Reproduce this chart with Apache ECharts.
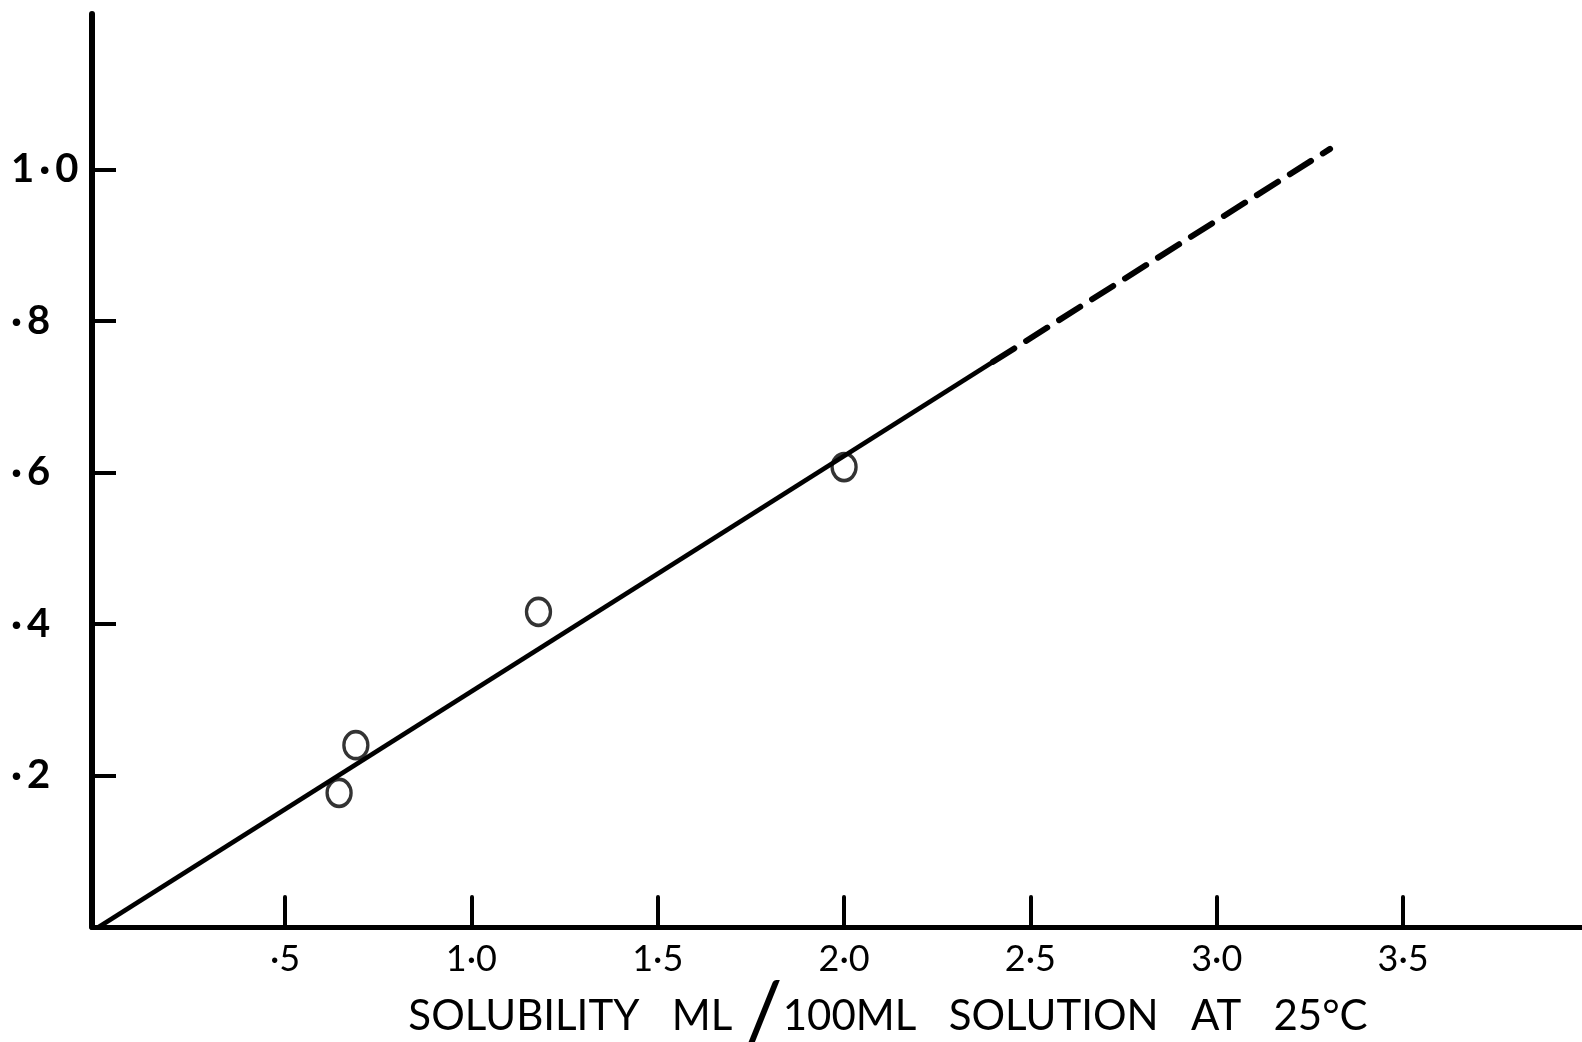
<!DOCTYPE html>
<html>
<head>
<meta charset="utf-8">
<script src="https://cdn.jsdelivr.net/npm/echarts@6/dist/echarts.min.js"></script>
<style>
  html, body { margin: 0; padding: 0; background: #fff; }
  #chart { width: 1582px; height: 1042px; }
</style>
</head>
<body>
<div id="chart"></div>
<script>
// Measured solubility points (ml / 100 ml solution at 25 °C)
const pointX = [0.645, 0.69, 1.18, 2.0];
const pointY = [0.177, 0.240, 0.416, 0.607];

// Fitted straight line: solid over the measured range, dashed beyond it
const fitSolidX = [0, 2.4];
const fitSolidY = [0, 0.746];
const fitDashX = [2.4, 3.304];
const fitDashY = [0.746, 1.027];

// Axis ticks and their printed labels
const xTicks = [0.5, 1.0, 1.5, 2.0, 2.5, 3.0, 3.5];
const xTickLabels = ['·5', '1·0', '1·5', '2·0', '2·5', '3·0', '3·5'];
const yTicks = [0.2, 0.4, 0.6, 0.8, 1.0];
const yTickLabels = ['·\u20092', '·\u20094', '·\u20096', '·\u20098', '1\u2009·\u20090'];

const xTitle = 'SOLUBILITY   ML {s|/}100ML   SOLUTION   AT   25°C';

const pairs = (xs, ys) => xs.map((x, i) => [x, ys[i]]);
const labelFor = (ticks, labels) => v => {
  const i = ticks.findIndex(t => Math.abs(t - v) < 1e-6);
  return i >= 0 ? labels[i] : '';
};

const ink = '#000';
const chart = echarts.init(document.getElementById('chart'), null, { renderer: 'canvas' });

chart.setOption({
  backgroundColor: '#fff',
  animation: false,
  grid: { left: 92, right: 0, top: 14, bottom: 115, containLabel: false, outerBoundsMode: 'none' },
  xAxis: {
    type: 'value',
    min: -0.018,
    max: 3.98,
    splitLine: { show: false },
    axisLine: { show: true, onZero: false, lineStyle: { color: ink, width: 5 } },
    axisTick: {
      show: true, inside: true, length: 30, customValues: xTicks,
      lineStyle: { color: ink, width: 4, cap: 'round' }
    },
    axisLabel: {
      customValues: xTicks,
      formatter: labelFor(xTicks, xTickLabels),
      color: ink, fontFamily: 'Lato', fontSize: 36, margin: 14
    },
    name: xTitle,
    nameLocation: 'middle',
    nameGap: 67,
    nameMoveOverlap: false,
    nameTextStyle: {
      color: ink, fontFamily: 'Lato', fontSize: 42, lineHeight: 44,
      padding: [0, 0, 0, 102],
      rich: {
        s: { fontFamily: 'Lato', fontSize: 88, lineHeight: 44, color: ink }
      }
    }
  },
  yAxis: {
    type: 'value',
    min: 0,
    max: 1.205,
    splitLine: { show: false },
    axisLine: { show: true, onZero: false, lineStyle: { color: ink, width: 6 } },
    axisTick: {
      show: true, inside: true, length: 24, customValues: yTicks,
      lineStyle: { color: ink, width: 4 }
    },
    axisLabel: {
      customValues: yTicks,
      formatter: labelFor(yTicks, yTickLabels),
      color: ink, fontFamily: 'Lato', fontWeight: 'bold', fontSize: 40,
      align: 'left', margin: 81
    }
  },
  series: [
    {
      type: 'line',
      data: pairs(fitSolidX, fitSolidY),
      symbol: 'none',
      lineStyle: { color: ink, width: 4.5 },
      z: 2
    },
    {
      type: 'line',
      data: pairs(fitDashX, fitDashY),
      symbol: 'none',
      lineStyle: { color: ink, width: 6, type: [25, 14], cap: 'round' },
      z: 2
    },
    {
      type: 'scatter',
      data: pairs(pointX, pointY),
      symbol: 'circle',
      symbolSize: [24, 27],
      itemStyle: { color: 'rgba(0,0,0,0)', borderColor: ink, borderWidth: 3.5 },
      z: 3
    }
  ]
});
</script>
</body>
</html>
